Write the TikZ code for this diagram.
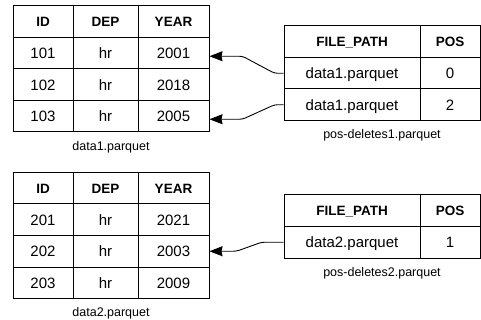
\documentclass[tikz,border=0pt]{standalone}
\usepackage{fontspec}
\setmainfont{Liberation Sans}
\usetikzlibrary{arrows.meta,calc}
\begin{document}
\begin{tikzpicture}[x=1pt,y=-1pt,
    cell/.style={draw,line width=1pt,minimum height=31.5pt,inner sep=0pt,text height=14pt,text depth=3pt,font=\fontsize{15}{17}\selectfont},
    head/.style={cell,text height=13pt,text depth=3.3pt,font=\fontsize{13.5}{16}\selectfont\bfseries},
    caption/.style={font=\fontsize{12.5}{15}\selectfont},
    link/.style={-{Stealth[length=13pt,width=10pt,inset=1pt]},line width=0.9pt,rounded corners=3pt}]
  \useasboundingbox (0,0) rectangle (481,320);

  % data1.parquet
  \node[head,minimum width=60pt] (a0-1) at (43,21.75) {ID};
  \node[head,minimum width=65pt] (a0-2) at (105.5,21.75) {DEP};
  \node[head,minimum width=71pt] (a0-3) at (173.5,21.75) {YEAR};
  \foreach \i/\id/\year in {1/101/2001,2/102/2018,3/103/2005} {
    \node[cell,minimum width=60pt] (a\i-1) at (43,{21.75+31.5*\i}) {\id};
    \node[cell,minimum width=65pt] (a\i-2) at (105.5,{21.75+31.5*\i}) {hr};
    \node[cell,minimum width=71pt] (a\i-3) at (173.5,{21.75+31.5*\i}) {\year};
  }
  \node[caption] (acap) at (111,147) {data1.parquet};

  % data2.parquet
  \node[head,minimum width=60pt] (b0-1) at (43,188.25) {ID};
  \node[head,minimum width=65pt] (b0-2) at (105.5,188.25) {DEP};
  \node[head,minimum width=71pt] (b0-3) at (173.5,188.25) {YEAR};
  \foreach \i/\id/\year in {1/201/2021,2/202/2003,3/203/2009} {
    \node[cell,minimum width=60pt] (b\i-1) at (43,{188.25+31.5*\i}) {\id};
    \node[cell,minimum width=65pt] (b\i-2) at (105.5,{188.25+31.5*\i}) {hr};
    \node[cell,minimum width=71pt] (b\i-3) at (173.5,{188.25+31.5*\i}) {\year};
  }
  \node[caption] (bcap) at (111,313) {data2.parquet};

  % pos-deletes1.parquet
  \node[head,minimum width=136pt] (c0-1) at (352,41.75) {FILE\_PATH};
  \node[head,minimum width=60pt] (c0-2) at (450,41.75) {POS};
  \foreach \i/\pos in {1/0,2/2} {
    \node[cell,minimum width=136pt] (c\i-1) at (352,{41.75+31.5*\i}) {data1.parquet};
    \node[cell,minimum width=60pt] (c\i-2) at (450,{41.75+31.5*\i}) {\pos};
  }
  \node[caption] (ccap) at (382,135) {pos-deletes1.parquet};

  % pos-deletes2.parquet
  \node[head,minimum width=136pt] (d0-1) at (352,210.75) {FILE\_PATH};
  \node[head,minimum width=60pt] (d0-2) at (450,210.75) {POS};
  \node[cell,minimum width=136pt] (d1-1) at (352,242.25) {data2.parquet};
  \node[cell,minimum width=60pt] (d1-2) at (450,242.25) {1};
  \node[caption] (dcap) at (382,273) {pos-deletes2.parquet};

  % deleted rows
  \draw[link] (c1-1.west) -- ++(-9,0) -- ($(a1-3.east)+(33,3)$) -- ($(a1-3.east)+(0,3)$);
  \draw[link] (c2-1.west) -- ++(-9,0) -- ($(a3-3.east)+(33,3)$) -- ($(a3-3.east)+(0,3)$);
  \draw[link] (d1-1.west) -- ++(-22,0) -- ($(b2-3.east)+(27,0)$) -- (b2-3.east);
\end{tikzpicture}
\end{document}
